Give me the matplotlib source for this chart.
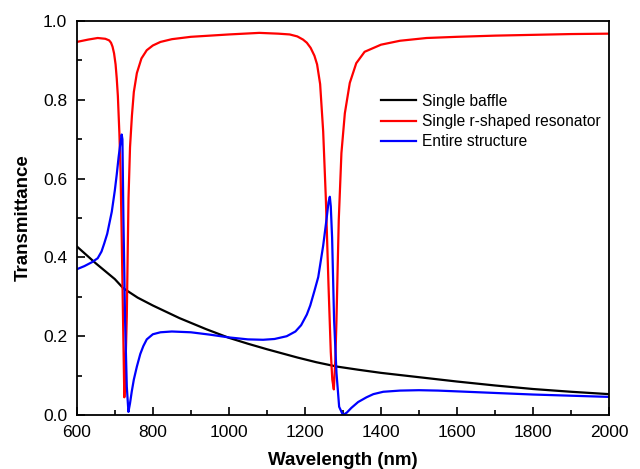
import matplotlib
matplotlib.use('Agg')
import matplotlib.pyplot as plt

plt.rcParams['font.family'] = ['Liberation Sans', 'DejaVu Sans']

# Single baffle
baffle_x = [600, 650, 700, 722, 760, 800, 870, 940, 1000, 1050, 1100, 1180, 1230,
            1284, 1340, 1400, 1500, 1600, 1700, 1800, 1900, 2000]
baffle_y = [0.428, 0.385, 0.345, 0.322, 0.298, 0.278, 0.246, 0.218, 0.196, 0.181,
            0.167, 0.146, 0.134, 0.123, 0.115, 0.107, 0.096, 0.085, 0.075, 0.066,
            0.059, 0.053]

# Single r-shaped resonator
reso_x = [600, 630, 655, 675, 685, 690, 694, 698, 702, 705, 708, 712, 715, 718, 722,
          725, 728, 731.5, 734, 736, 740, 745, 750, 758, 770, 784, 800, 820, 850, 900,
          1000, 1080, 1130, 1160, 1180, 1195, 1205, 1215, 1225, 1232, 1240, 1248, 1255,
          1262, 1268, 1272, 1276, 1280, 1283, 1286, 1289, 1296, 1305, 1318, 1335, 1357,
          1400, 1450, 1520, 1600, 1700, 1800, 1900, 2000]
reso_y = [0.947, 0.953, 0.957, 0.955, 0.951, 0.945, 0.935, 0.918, 0.89, 0.855, 0.81,
          0.715, 0.62, 0.46, 0.22, 0.045, 0.12, 0.25, 0.42, 0.55, 0.68, 0.76, 0.82,
          0.868, 0.905, 0.926, 0.938, 0.947, 0.954, 0.960, 0.966, 0.970, 0.968, 0.966,
          0.961, 0.953, 0.945, 0.932, 0.912, 0.89, 0.84, 0.72, 0.55, 0.33, 0.16, 0.09,
          0.065, 0.14, 0.24, 0.37, 0.495, 0.665, 0.766, 0.843, 0.893, 0.922, 0.940,
          0.950, 0.957, 0.960, 0.963, 0.965, 0.967, 0.968]

# Entire structure
entire_x = [600, 620, 640, 655, 665, 672, 680, 692, 700, 705, 710, 714, 718, 720, 722.6,
            725, 727, 731.5, 735.8, 740, 744.6, 750, 758, 767, 775, 784, 800, 820,
            850, 900, 950, 1000, 1050, 1090, 1120, 1152, 1175, 1190, 1205, 1214,
            1225, 1235, 1248, 1256.6, 1262, 1265.5, 1268, 1271.5, 1276.7, 1283, 1290,
            1300, 1310, 1322, 1340, 1362, 1380, 1406, 1450, 1500, 1550, 1626, 1700,
            1800, 1900, 2000]
entire_y = [0.370, 0.378, 0.388, 0.398, 0.415, 0.435, 0.46, 0.516, 0.57, 0.61, 0.655,
            0.685, 0.712, 0.70, 0.50, 0.36, 0.24, 0.072, 0.008, 0.03, 0.06, 0.09, 0.123,
            0.155, 0.175, 0.192, 0.205, 0.210, 0.212, 0.210, 0.204, 0.197, 0.192,
            0.191, 0.193, 0.200, 0.212, 0.228, 0.255, 0.278, 0.315, 0.35, 0.43, 0.495,
            0.54, 0.554, 0.53, 0.45, 0.241, 0.107, 0.021, 0.0, 0.006, 0.018, 0.033,
            0.045, 0.053, 0.059, 0.062, 0.063, 0.062, 0.059, 0.056, 0.052, 0.049, 0.046]

fig = plt.figure(figsize=(6.4, 4.69), dpi=100)
ax = fig.add_axes([0.12, 0.1151, 0.8317, 0.84])

ax.plot(baffle_x, baffle_y, color='black', lw=1.6, label='Single baffle')
ax.plot(reso_x, reso_y, color='#ff0000', lw=1.6, label='Single r-shaped resonator')
ax.plot(entire_x, entire_y, color='#0000ff', lw=1.6, label='Entire structure')

ax.set_xlim(600, 2000)
ax.set_ylim(0, 1.0)
ax.xaxis.set_major_locator(plt.MultipleLocator(200))
ax.xaxis.set_minor_locator(plt.MultipleLocator(100))
ax.yaxis.set_major_locator(plt.MultipleLocator(0.2))
ax.yaxis.set_minor_locator(plt.MultipleLocator(0.1))
ax.yaxis.set_major_formatter(plt.FormatStrFormatter('%.1f'))

ax.tick_params(which='both', direction='in', top=False, right=False,
               labelsize=12.5, width=1.2)
ax.tick_params(which='major', length=6, pad=7)
ax.tick_params(which='minor', length=3.5)
for s in ax.spines.values():
    s.set_linewidth(1.3)

ax.set_xlabel('Wavelength (nm)', fontsize=13.5, fontweight='bold', labelpad=9)
ax.set_ylabel('Transmittance', fontsize=13.5, fontweight='bold', labelpad=8)

ax.legend(loc='upper left', bbox_to_anchor=(0.571, 0.815), frameon=False,
          fontsize=11.2, handlelength=2.25, handletextpad=0.4, labelspacing=0.33,
          borderpad=0, borderaxespad=0)

fig.savefig('out.png', dpi=100)
